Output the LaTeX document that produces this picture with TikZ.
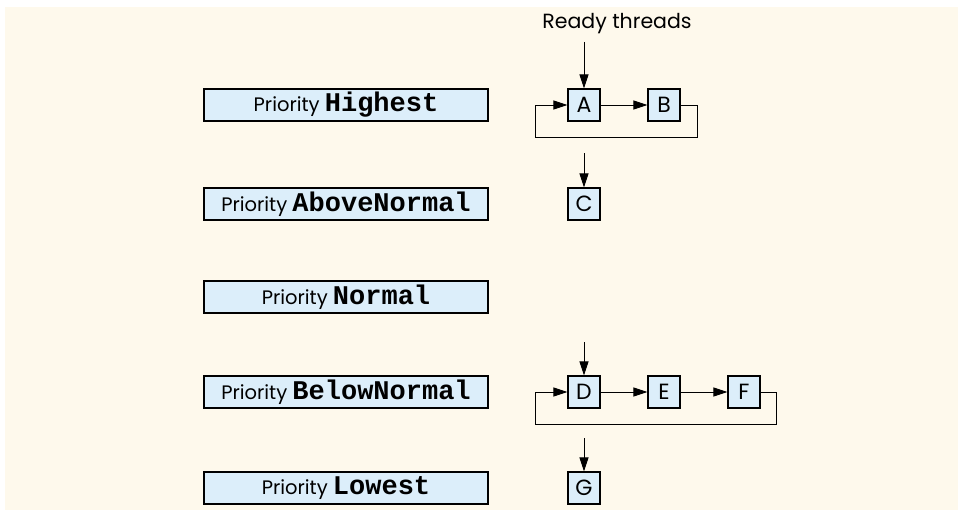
\documentclass[tikz,border=0pt]{standalone}
\usepackage{fontspec}
\setmainfont{Poppins}
\setmonofont{Liberation Mono}
\usetikzlibrary{arrows.meta,positioning,calc}
\definecolor{PRIbg}{HTML}{FEF9EC}
\definecolor{PRIbox}{HTML}{DCEEFA}

\begin{document}
\begin{tikzpicture}[x=1pt, y=-1pt]

%% ── helpers ───────────────────────────────────────────────
\tikzset{
  prio/.style={rectangle,draw=black,fill=PRIbox,line width=1.1pt,
               minimum width=284pt,minimum height=32pt,inner sep=0pt,
               font=\fontsize{19.5}{21}\selectfont},
  thr/.style={rectangle,draw=black,fill=PRIbox,line width=1.1pt,
              minimum size=32pt,inner sep=0pt,
              font=\fontsize{22}{23}\selectfont},
  arr/.style={-{Triangle[length=14pt,width=9pt]},line width=0.9pt},
}
\newcommand{\pname}[1]{{\fontsize{27}{27}\selectfont\ttfamily\bfseries #1}}

%% ── BACKGROUND ────────────────────────────────────────────
\useasboundingbox (0,0) rectangle (958,516);
\fill[PRIbg] (5,7) rectangle (958,510);

%% ── PRIORITY LEVELS (x=346) ──────────────────────────────
\node[prio] (hi)     at (346,105) {Priority \pname{Highest}};
\node[prio] (abv)    at (346,204) {Priority \pname{AboveNormal}};
\node[prio] (norm)   at (346,297) {Priority \pname{Normal}};
\node[prio] (blw)    at (346,392) {Priority \pname{BelowNormal}};
\node[prio] (low)    at (346,488) {Priority \pname{Lowest}};

%% ── READY THREADS ────────────────────────────────────────
\node[font=\fontsize{20.5}{22}\selectfont] (ready) at (617,24) {Ready threads};

\node[thr] (A) at (584,105) {A};
\node[thr] (B) at (664,105) {B};
\node[thr] (C) at (584,204) {C};
\node[thr] (D) at (584,392) {D};
\node[thr] (E) at (664,392) {E};
\node[thr] (F) at (744,392) {F};
\node[thr] (G) at (584,488) {G};

%% ── queue heads ──
\coordinate (Ain) at (584,42);
\coordinate (Cin) at (584,153);
\coordinate (Din) at (584,342);
\coordinate (Gin) at (584,438);
\draw[arr] (Ain) -- (A);
\draw[arr] (Cin) -- (C);
\draw[arr] (Din) -- (D);
\draw[arr] (Gin) -- (G);

%% ── round-robin loops ──
\draw[arr] (A) -- (B);
\coordinate (ABloop) at (535,137);
\draw[arr] (B.east) -- ++(17,0) |- (ABloop) |- (A.west);

\draw[arr] (D) -- (E);
\draw[arr] (E) -- (F);
\coordinate (DFloop) at (535,424);
\draw[arr] (F.east) -- ++(16,0) |- (DFloop) |- (D.west);

\end{tikzpicture}
\end{document}
